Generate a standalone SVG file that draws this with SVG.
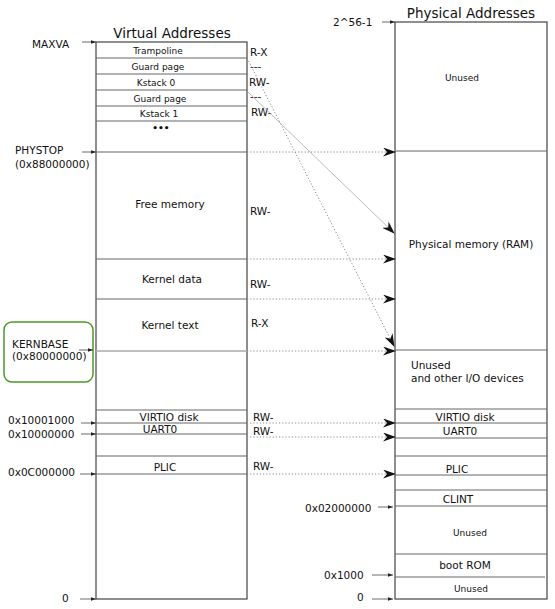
<svg xmlns="http://www.w3.org/2000/svg" width="555" height="609" viewBox="0 0 555 609">
<defs>
<marker id="big" viewBox="0 0 13 9" refX="12" refY="4.5" markerWidth="13" markerHeight="9" markerUnits="userSpaceOnUse" orient="auto">
<path d="M0,0 L13,4.5 L0,9 L4,4.5 z" fill="#111"/>
</marker>
<marker id="small" viewBox="0 0 6 4" refX="6" refY="2" markerWidth="5" markerHeight="4" markerUnits="userSpaceOnUse" orient="auto">
<path d="M0,0 L6,2 L0,4 z" fill="#222"/>
</marker>
<style>
text{font-family:"DejaVu Sans",Verdana,sans-serif;fill:#111}
.title{font-size:13.5px}
.lab{font-size:10.5px}
.sm{font-size:9px;text-anchor:middle}
.md{font-size:10.5px;text-anchor:middle}
.perm{font-size:10.5px}
.box{fill:#fff;stroke:#444;stroke-width:1.2}
.row{stroke:#666;stroke-width:1}
.tick{stroke:#444;stroke-width:0.8;marker-end:url(#small)}
.dot{stroke:#888;stroke-width:1;stroke-dasharray:1.2 2;fill:none;marker-end:url(#big)}
.sol{stroke:#aaa;stroke-width:0.8;fill:none;marker-end:url(#big)}
</style>
</defs>
<rect width="555" height="609" fill="#fff"/>

<g id="virtual">
<text class="title" x="172" y="38" text-anchor="middle">Virtual Addresses</text>
<rect class="box" x="96" y="42" width="151" height="557"/>
<line class="row" x1="96" y1="58" x2="247" y2="58"/>
<line class="row" x1="96" y1="74" x2="247" y2="74"/>
<line class="row" x1="96" y1="90" x2="247" y2="90"/>
<line class="row" x1="96" y1="106" x2="247" y2="106"/>
<line class="row" x1="96" y1="121" x2="247" y2="121"/>
<line class="row" x1="96" y1="152" x2="247" y2="152"/>
<line class="row" x1="96" y1="259" x2="247" y2="259"/>
<line class="row" x1="96" y1="299" x2="247" y2="299"/>
<line x1="96" y1="351" x2="247" y2="351" stroke="#aaa" stroke-width="1.6"/>
<line class="row" x1="96" y1="410" x2="247" y2="410"/>
<line class="row" x1="96" y1="423" x2="247" y2="423"/>
<line class="row" x1="96" y1="434" x2="247" y2="434"/>
<line class="row" x1="96" y1="456" x2="247" y2="456"/>
<line class="row" x1="96" y1="474" x2="247" y2="474"/>
<text class="sm" x="158" y="54">Trampoline</text>
<text class="sm" x="158" y="70">Guard page</text>
<text class="sm" x="156" y="86">Kstack 0</text>
<text class="sm" x="160" y="102">Guard page</text>
<text class="sm" x="159" y="117">Kstack 1</text>
<text class="sm" x="161" y="131" font-weight="bold">•••</text>
<text class="md" x="170" y="208">Free memory</text>
<text class="md" x="172" y="283">Kernel data</text>
<text class="md" x="170" y="329">Kernel text</text>
<text class="md" x="169" y="421">VIRTIO disk</text>
<text class="md" x="160" y="433">UART0</text>
<text class="md" x="165" y="471">PLIC</text>
<text class="perm" x="250" y="56">R-X</text>
<text class="perm" x="250" y="70">---</text>
<text class="perm" x="249" y="86">RW-</text>
<text class="perm" x="250" y="100">---</text>
<text class="perm" x="251" y="116">RW-</text>
<text class="perm" x="250" y="215">RW-</text>
<text class="perm" x="250" y="288">RW-</text>
<text class="perm" x="251" y="327">R-X</text>
<text class="perm" x="253" y="421">RW-</text>
<text class="perm" x="253" y="435">RW-</text>
<text class="perm" x="253" y="470">RW-</text>
</g>

<g id="virtual-labels">
<text class="lab" x="32" y="48">MAXVA</text>
<line class="tick" x1="82" y1="42" x2="96" y2="42"/>
<text class="lab" x="15" y="154">PHYSTOP</text>
<text class="lab" x="15" y="168">(0x88000000)</text>
<line class="tick" x1="82" y1="152" x2="96" y2="152"/>
<rect x="4" y="322" width="89" height="60" rx="8" fill="none" stroke="#4a9a2a" stroke-width="1.5"/>
<text class="lab" x="12" y="348">KERNBASE</text>
<text class="lab" x="12" y="360">(0x80000000)</text>
<line class="tick" x1="79" y1="350" x2="93" y2="350"/>
<text class="lab" x="8" y="424">0x10001000</text>
<line class="tick" x1="81" y1="423" x2="96" y2="423"/>
<text class="lab" x="8" y="438">0x10000000</text>
<line class="tick" x1="81" y1="434" x2="96" y2="434"/>
<text class="lab" x="8" y="476">0x0C000000</text>
<line class="tick" x1="80" y1="474" x2="96" y2="474"/>
<text class="lab" x="62" y="602">0</text>
<line class="tick" x1="80" y1="599" x2="96" y2="599"/>
</g>

<g id="physical">
<text class="title" x="471" y="18" text-anchor="middle">Physical Addresses</text>
<rect class="box" x="395" y="22" width="152" height="577"/>
<line class="row" x1="395" y1="151" x2="547" y2="151"/>
<line class="row" x1="395" y1="350" x2="547" y2="350"/>
<line class="row" x1="395" y1="409" x2="547" y2="409"/>
<line class="row" x1="395" y1="423" x2="547" y2="423"/>
<line class="row" x1="395" y1="438" x2="547" y2="438"/>
<line class="row" x1="395" y1="456" x2="547" y2="456"/>
<line class="row" x1="395" y1="475" x2="547" y2="475"/>
<line class="row" x1="395" y1="490" x2="547" y2="490"/>
<line class="row" x1="395" y1="506" x2="547" y2="506"/>
<line class="row" x1="395" y1="554" x2="547" y2="554"/>
<line class="row" x1="395" y1="577" x2="545" y2="577"/>
<text class="sm" x="462" y="81">Unused</text>
<text class="md" x="471" y="248">Physical memory (RAM)</text>
<text class="lab" x="411" y="369">Unused</text>
<text class="lab" x="411" y="382">and other I/O devices</text>
<text class="md" x="465" y="421">VIRTIO disk</text>
<text class="md" x="460" y="435">UART0</text>
<text class="md" x="457" y="473">PLIC</text>
<text class="md" x="458" y="503">CLINT</text>
<text class="sm" x="470" y="536">Unused</text>
<text class="md" x="465" y="569">boot ROM</text>
<text class="sm" x="471" y="592">Unused</text>
</g>

<g id="physical-labels">
<text class="lab" x="333" y="26">2^56-1</text>
<line class="tick" x1="382" y1="22" x2="395" y2="22"/>
<text class="lab" x="305" y="512">0x02000000</text>
<line class="tick" x1="378" y1="507" x2="393" y2="507"/>
<text class="lab" x="324" y="579">0x1000</text>
<line class="tick" x1="372" y1="575" x2="393" y2="575"/>
<text class="lab" x="357" y="601">0</text>
<line class="tick" x1="372" y1="599" x2="393" y2="599"/>
</g>

<g id="connectors">
<line class="dot" x1="247" y1="152" x2="395" y2="152"/>
<line class="dot" x1="247" y1="259" x2="395" y2="259"/>
<line class="dot" x1="247" y1="299" x2="395" y2="299"/>
<line class="dot" x1="247" y1="351" x2="395" y2="351"/>
<line class="dot" x1="247" y1="423" x2="395" y2="423"/>
<line class="dot" x1="247" y1="437" x2="395" y2="437"/>
<line class="dot" x1="247" y1="474" x2="395" y2="474"/>
<line class="dot" x1="247" y1="58" x2="394" y2="346"/>
<line class="sol" x1="248" y1="92" x2="394" y2="233"/>
</g>
</svg>
